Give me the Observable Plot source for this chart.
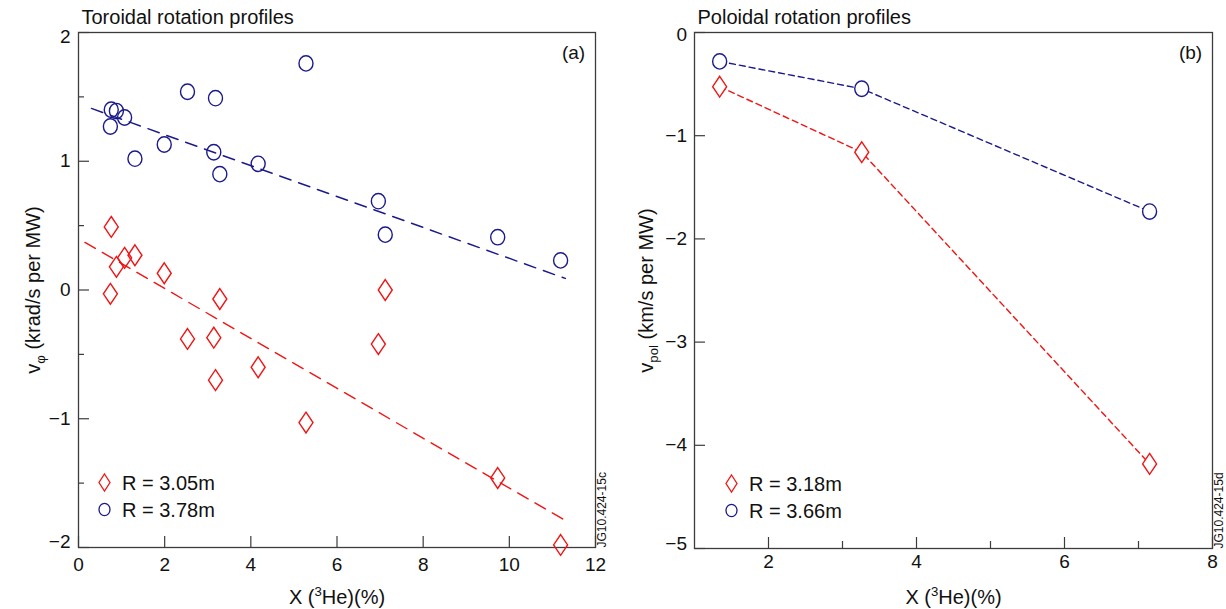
<!DOCTYPE html>
<html>
<head>
<meta charset="utf-8">
<script src="https://cdn.jsdelivr.net/npm/d3@7"></script>
<script src="https://cdn.jsdelivr.net/npm/@observablehq/plot@0.6"></script>
<style>
  html, body { margin: 0; padding: 0; background: #fff; }
  #wrap { display: flex; width: 1226px; height: 609px; }
  #wrap svg { display: block; }
</style>
</head>
<body>
<div id="wrap"></div>
<script>
// ---------------- Panel (a): toroidal rotation ----------------
const torX     = [0.76, 0.74, 0.88, 1.07, 1.31, 1.99, 2.53, 3.14, 3.18, 3.28, 4.17, 5.28, 6.96, 7.12, 9.73, 11.19];
const torRed   = [0.49, -0.03, 0.18, 0.25, 0.27, 0.13, -0.38, -0.37, -0.70, -0.07, -0.60, -1.03, -0.42, 0.00, -1.46, -1.98];
const torBlue  = [1.40, 1.27, 1.39, 1.34, 1.02, 1.13, 1.54, 1.07, 1.49, 0.90, 0.98, 1.76, 0.69, 0.43, 0.41, 0.23];
const torFitRedX  = [0.15, 11.35];
const torFitRedY  = [0.37, -1.80];
const torFitBlueX = [0.30, 11.30];
const torFitBlueY = [1.41, 0.09];
const torXTicks = [0, 2, 4, 6, 8, 10, 12];
const torYTicks = [-2, -1, 0, 1, 2];
const torYMinor = [-1.5, -0.5, 0.5, 1.5];
const torLegend = ["R = 3.05m", "R = 3.78m"];

// ---------------- Panel (b): poloidal rotation ----------------
const polX    = [1.34, 3.26, 7.15];
const polRed  = [-0.525, -1.16, -4.18];
const polBlue = [-0.28, -0.545, -1.735];
const polXTicks = [2, 4, 6, 8];
const polXMinor = [3, 5, 7];
const polYTicks = [0, -1, -2, -3, -4, -5];
const polLegend = ["R = 3.18m", "R = 3.66m"];

// ---------------- styling ----------------
const RED = "#f01414", BLUE = "#1a1a8c", AXIS = "#3c3c3c", INK = "#111";
const FONT = "'Liberation Sans', Arial, Helvetica, sans-serif";
const W = 613, H = 609, MT = 32;

function diamond(hw, hh) {
  return { draw(ctx) { ctx.moveTo(0, -hh); ctx.lineTo(hw, 0); ctx.lineTo(0, hh); ctx.lineTo(-hw, 0); ctx.closePath(); } };
}
function ellipse(rx, ry) {
  const k = 0.5523;
  return { draw(ctx) {
    ctx.moveTo(rx, 0);
    ctx.bezierCurveTo(rx, k * ry, k * rx, ry, 0, ry);
    ctx.bezierCurveTo(-k * rx, ry, -rx, k * ry, -rx, 0);
    ctx.bezierCurveTo(-rx, -k * ry, -k * rx, -ry, 0, -ry);
    ctx.bezierCurveTo(k * rx, -ry, rx, -k * ry, rx, 0);
    ctx.closePath();
  } };
}
const DIA = diamond(7, 10.4), CIR = ellipse(7, 7.7);
const DIA_S = diamond(5.5, 8.5), CIR_S = ellipse(5.5, 6.2);
const fmt = d => d < 0 ? "\u2212" + Math.abs(d) : String(d);

function panel(c) {
  const iw = W - c.ml - c.mr, ih = H - MT - c.mb;
  const [y0, y1] = c.yDomain;
  const marks = [
    Plot.tickX(c.xTicks, {x: d => d, insetTop: ih - 11, stroke: AXIS, strokeWidth: 1.2}),
    Plot.tickX(c.xMinor, {x: d => d, insetTop: ih - 7, stroke: AXIS, strokeWidth: 1.2}),
    Plot.tickY(c.yTicks, {y: d => d, insetRight: iw - 11, stroke: AXIS, strokeWidth: 1.2}),
    Plot.tickY(c.yMinor, {y: d => d, insetRight: iw - 6, stroke: AXIS, strokeWidth: 1.2}),
    Plot.frame({stroke: AXIS, strokeWidth: 1.3}),
    // tick labels
    Plot.text(c.xTicks, {x: d => d, text: fmt, frameAnchor: "bottom", dy: c.xLabDy, textAnchor: "middle", lineAnchor: "middle", fontSize: 19}),
    Plot.text(c.yTicks.filter(d => d !== y0 && d !== y1), {y: d => d, text: fmt, frameAnchor: "left", dx: c.yLabDx, textAnchor: "end", lineAnchor: "middle", fontSize: 19}),
    Plot.text([y1], {y: d => d, text: fmt, frameAnchor: "left", dx: c.yLabDx, dy: c.topDy, textAnchor: "end", lineAnchor: "middle", fontSize: 19}),
    Plot.text([y0], {y: d => d, text: fmt, frameAnchor: "left", dx: c.yLabDx, dy: c.botDy, textAnchor: "end", lineAnchor: "middle", fontSize: 19}),
    // axis titles
    Plot.text([c.xLabel], {text: d => d, frameAnchor: "bottom", dy: c.xTitleDy, textAnchor: "middle", lineAnchor: "bottom", fontSize: 20}),
    Plot.text([c.yLabel], {text: d => d, frameAnchor: "left", dx: c.yTitleDx, rotate: -90, textAnchor: "middle", lineAnchor: "bottom", fontSize: 20}),
    // panel title, tag, id
    Plot.text([c.title], {text: d => d, frameAnchor: "top-left", dx: 3, dy: -9, textAnchor: "start", lineAnchor: "bottom", fontSize: 20}),
    Plot.text([c.tag], {text: d => d, frameAnchor: "top-right", dx: -22, dy: 20, textAnchor: "middle", lineAnchor: "middle", fontSize: 19}),
    Plot.text([c.jg], {text: d => d, frameAnchor: "bottom-right", dx: 10, rotate: -90, textAnchor: "start", lineAnchor: "bottom", fontSize: 12}),
    ...c.data,
    // legend
    Plot.dot([0], {frameAnchor: "bottom-left", dx: c.legDx, dy: -65, symbol: DIA_S, stroke: RED, fill: "none", strokeWidth: 1.3}),
    Plot.dot([0], {frameAnchor: "bottom-left", dx: c.legDx, dy: -38, symbol: CIR_S, stroke: BLUE, fill: "none", strokeWidth: 1.3}),
    Plot.text([c.legend[0]], {text: d => d, frameAnchor: "bottom-left", dx: c.legDx + 17.5, dy: -64, textAnchor: "start", lineAnchor: "middle", fontSize: 20}),
    Plot.text([c.legend[1]], {text: d => d, frameAnchor: "bottom-left", dx: c.legDx + 17.5, dy: -37, textAnchor: "start", lineAnchor: "middle", fontSize: 20})
  ];
  return Plot.plot({
    width: W, height: H,
    marginLeft: c.ml, marginRight: c.mr, marginTop: MT, marginBottom: c.mb,
    x: {domain: c.xDomain, axis: null},
    y: {domain: c.yDomain, axis: null},
    style: {fontFamily: FONT, fontSize: "19px", color: INK, background: "#fff", overflow: "visible"},
    marks
  });
}

// rich text: _{sub} and ^{sup}
function richify(svg) {
  d3.select(svg).selectAll("text").each(function () {
    const s = this.textContent;
    if (!/[_^]\{/.test(s)) return;
    const fs = 20;
    this.textContent = "";
    const parts = s.split(/([_^]\{[^}]*\})/).filter(p => p);
    let shift = 0;
    for (const p of parts) {
      const t = d3.select(this).append("tspan");
      const m = p.match(/^([_^])\{([^}]*)\}$/);
      if (m) {
        const target = m[1] === "_" ? fs * 0.28 : -fs * 0.36;
        t.attr("dy", target - shift).attr("font-size", fs * 0.66).text(m[2]);
        shift = target;
      } else {
        t.attr("dy", -shift).text(p);
        shift = 0;
      }
    }
  });
}

const torRows = torX.map((x, i) => ({x, red: torRed[i], blue: torBlue[i]}));
const torFitRed = torFitRedX.map((x, i) => ({x, y: torFitRedY[i]}));
const torFitBlue = torFitBlueX.map((x, i) => ({x, y: torFitBlueY[i]}));
const polRows = polX.map((x, i) => ({x, red: polRed[i], blue: polBlue[i]}));

const left = panel({
  ml: 78, mr: 18, mb: 62,
  xDomain: [0, 12], yDomain: [-2, 2],
  xTicks: torXTicks, xMinor: [], yTicks: torYTicks, yMinor: torYMinor,
  xLabDy: 17, yLabDx: -8, topDy: 4.5, botDy: -5.5, xTitleDy: 56, yTitleDx: -39,
  xLabel: "X (^{3}He)(%)", yLabel: "v_{φ} (krad/s per MW)",
  title: "Toroidal rotation profiles", tag: "(a)", jg: "JG10.424-15c",
  legend: torLegend, legDx: 26,
  data: [
    Plot.line(torFitBlue, {x: "x", y: "y", stroke: BLUE, strokeWidth: 1.4, strokeDasharray: "12,8"}),
    Plot.line(torFitRed, {x: "x", y: "y", stroke: RED, strokeWidth: 1.4, strokeDasharray: "12,8"}),
    Plot.dot(torRows, {x: "x", y: "blue", symbol: CIR, stroke: BLUE, fill: "none", strokeWidth: 1.4}),
    Plot.dot(torRows, {x: "x", y: "red", symbol: DIA, stroke: RED, fill: "none", strokeWidth: 1.4})
  ]
});

const right = panel({
  ml: 81, mr: 14, mb: 61,
  xDomain: [1, 8], yDomain: [-5, 0],
  xTicks: polXTicks, xMinor: polXMinor, yTicks: polYTicks, yMinor: [],
  xLabDy: 13.5, yLabDx: -7.5, topDy: 2, botDy: -5, xTitleDy: 55, yTitleDx: -42,
  xLabel: "X (^{3}He)(%)", yLabel: "v_{pol} (km/s per MW)",
  title: "Poloidal rotation profiles", tag: "(b)", jg: "JG10.424-15d",
  legend: polLegend, legDx: 37,
  data: [
    Plot.line(polRows, {x: "x", y: "blue", stroke: BLUE, strokeWidth: 1.4, strokeDasharray: "6,4"}),
    Plot.line(polRows, {x: "x", y: "red", stroke: RED, strokeWidth: 1.4, strokeDasharray: "6,4"}),
    Plot.dot(polRows, {x: "x", y: "blue", symbol: CIR, stroke: BLUE, fill: "#fff", strokeWidth: 1.4}),
    Plot.dot(polRows, {x: "x", y: "red", symbol: DIA, stroke: RED, fill: "#fff", strokeWidth: 1.4})
  ]
});

const wrap = document.getElementById("wrap");
wrap.append(left, right);
richify(left);
richify(right);
</script>
</body>
</html>
